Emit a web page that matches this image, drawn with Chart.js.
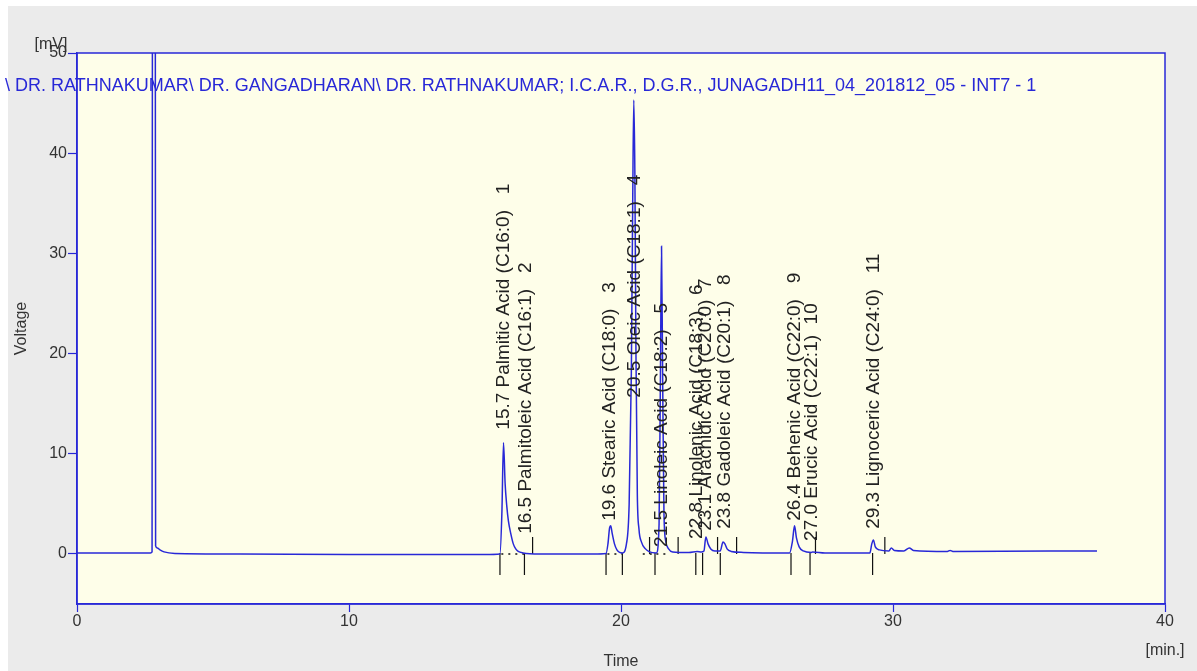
<!DOCTYPE html>
<html>
<head>
<meta charset="utf-8">
<script src="https://cdn.jsdelivr.net/npm/chart.js@4"></script>
<style>
  html, body { margin: 0; padding: 0; background: #fff; }
  #wrap { width: 1197px; height: 671px; }
</style>
</head>
<body>
<div id="wrap"><canvas id="chromChart" width="1197" height="671"></canvas></div>
<script>
// trace: time [min] / signal [mV]
var traceTime = [0, 2.7, 2.76, 2.83, 2.89, 2.95, 3.05, 3.2, 3.6, 6, 10, 15,
  15.55, 15.62, 15.68, 15.74, 15.8, 15.86, 15.95, 16.04, 16.13, 16.22, 16.4, 17, 19,
  19.45, 19.52, 19.58, 19.62, 19.68, 19.76, 19.85, 19.95,
  20.05, 20.2, 20.3, 20.38, 20.43, 20.47, 20.51, 20.55, 20.6, 20.66, 20.75, 20.9, 21.05,
  21.3, 21.4, 21.45, 21.49, 21.53, 21.58, 21.65, 21.75, 21.9,
  22.5, 22.8, 22.95, 23.05, 23.12, 23.2, 23.3, 23.45, 23.65, 23.75, 23.82, 23.9, 24.05, 24.5,
  26.2, 26.3, 26.38, 26.45, 26.55, 26.7, 27.0, 27.05, 27.5,
  29.15, 29.22, 29.28, 29.35, 29.5, 29.85, 29.94, 30.05, 30.4, 30.6, 30.75, 32, 32.1, 32.2, 37.5];
var traceMv = [0.1, 0.1, 0.2, 300, 0.8, 0.6, 0.4, 0.2, 0.05, 0, -0.05, -0.05,
  0, 4, 11.1, 7, 4.8, 3.3, 2, 1, 0.5, 0.25, 0.1, 0, 0,
  0.05, 1, 2.6, 2.8, 2, 1, 0.4, 0.15,
  0.1, 1, 5, 18, 35, 45.3, 38, 20, 6, 2.5, 1.2, 0.5, 0.2,
  0.1, 3, 18, 30.7, 18, 4, 1.2, 0.5, 0.2,
  0.15, 0.25, 0.2, 0.3, 1.7, 1.0, 0.5, 0.3, 0.3, 1.2, 1.0, 0.5, 0.25, 0.15,
  0.1, 1.2, 2.8, 1.6, 0.7, 0.3, 0.15, 0.2, 0.1,
  0.1, 1.0, 1.4, 0.7, 0.4, 0.3, 0.6, 0.35, 0.3, 0.6, 0.35, 0.25, 0.35, 0.25, 0.3];

// identified peaks
var peakTimes = [15.7, 16.5, 19.6, 20.5, 21.5, 22.8, 23.1, 23.8, 26.4, 27.0, 29.3];
var peakNames = ['Palmitic Acid (C16:0)', 'Palmitoleic Acid (C16:1)', 'Stearic Acid (C18:0)',
  'Oleic Acid (C18:1)', 'Linoleic Acid (C18:2)', 'Linolenic Acid (C18:3)', 'Arachidic Acid (C20:0)',
  'Gadoleic Acid (C20:1)', 'Behenic Acid (C22:0)', 'Erucic Acid (C22:1)', 'Lignoceric Acid (C24:0)'];
var peakGaps = ['   ', '   ', '   ', '   ', '   ', '   ', '  ', '   ', '   ', '  ', '   '];
var labelStartMv = [12.4, 2.0, 3.3, 15.6, 0.7, 1.5, 2.3, 2.5, 3.3, 1.3, 2.5];

// integration marks
var startMarks = [15.55, 16.45, 19.45, 20.05, 21.25, 22.75, 23.0, 23.65, 26.25, 26.95, 29.25];
var endMarks = [16.75, 21.05, 22.1, 23.55, 24.25, 27.15, 29.7];
var dottedFrom = [15.6, 19.5, 20.8, 21.3];
var dottedTo = [16.45, 20.05, 21.25, 21.75];

var xTicks = [0, 10, 20, 30, 40];
var yTicks = [0, 10, 20, 30, 40, 50];

var titleText = '\\ DR. RATHNAKUMAR\\ DR. GANGADHARAN\\ DR. RATHNAKUMAR; I.C.A.R., D.G.R., JUNAGADH11_04_201812_05 - INT7 - 1';

var blue = 'rgb(40,40,215)';
var font = 'Liberation Sans, Arial, sans-serif';

function tracePoints() {
  return traceTime.map(function (t, i) { return { x: t, y: traceMv[i] }; });
}

function markPoints() {
  var pts = [];
  startMarks.forEach(function (t) {
    pts.push({ x: t, y: 0.1 }, { x: t, y: -2.1 }, { x: t, y: null });
  });
  endMarks.forEach(function (t) {
    pts.push({ x: t, y: 0 }, { x: t, y: 1.7 }, { x: t, y: null });
  });
  return pts;
}

function dottedPoints() {
  var pts = [];
  dottedFrom.forEach(function (t, i) {
    pts.push({ x: t, y: 0 }, { x: dottedTo[i], y: 0 }, { x: dottedTo[i], y: null });
  });
  return pts;
}

var framePlugin = {
  id: 'frame',
  beforeDraw: function (chart) {
    var ctx = chart.ctx, a = chart.chartArea;
    ctx.save();
    ctx.fillStyle = '#fff';
    ctx.fillRect(0, 0, chart.width, chart.height);
    ctx.fillStyle = '#ebebeb';
    ctx.fillRect(8, 6, chart.width - 8, chart.height - 6);
    ctx.fillStyle = '#fefee9';
    ctx.fillRect(a.left, a.top, a.right - a.left, a.bottom - a.top);
    ctx.restore();
  },
  afterDatasetsDraw: function (chart) {
    var ctx = chart.ctx, x = chart.scales.x, y = chart.scales.y;
    ctx.save();
    ctx.fillStyle = '#222';
    ctx.font = '19px ' + font;
    ctx.textAlign = 'left';
    ctx.textBaseline = 'middle';
    peakTimes.forEach(function (t, i) {
      var txt = t.toFixed(1) + ' ' + peakNames[i] + peakGaps[i] + (i + 1);
      ctx.save();
      ctx.translate(x.getPixelForValue(t), y.getPixelForValue(labelStartMv[i]));
      ctx.rotate(-Math.PI / 2);
      ctx.fillText(txt, 0, 0);
      ctx.restore();
    });
    ctx.restore();
  },
  afterDraw: function (chart) {
    var ctx = chart.ctx, a = chart.chartArea;
    ctx.save();
    ctx.strokeStyle = blue;
    ctx.lineWidth = 1.5;
    ctx.strokeRect(a.left, a.top, a.right - a.left, a.bottom - a.top);
    ctx.fillStyle = blue;
    ctx.font = '18px ' + font;
    ctx.textBaseline = 'middle';
    ctx.textAlign = 'left';
    ctx.fillText(titleText, 5, 86);
    ctx.fillStyle = '#333';
    ctx.font = '16px ' + font;
    ctx.textAlign = 'center';
    ctx.fillText('[mV]', 51, 45);
    ctx.fillText('[min.]', a.right, 651);
    ctx.restore();
  }
};

var chart = new Chart(document.getElementById('chromChart').getContext('2d'), {
  type: 'line',
  data: {
    datasets: [{
      label: 'signal',
      data: tracePoints(),
      borderColor: blue,
      borderWidth: 1.5,
      pointRadius: 0,
      fill: false,
      cubicInterpolationMode: 'monotone',
      tension: 0.4
    }, {
      label: 'marks',
      data: markPoints(),
      borderColor: '#111',
      borderWidth: 1.2,
      pointRadius: 0,
      spanGaps: false
    }, {
      label: 'baseline',
      data: dottedPoints(),
      borderColor: '#111',
      borderWidth: 1.5,
      borderDash: [2, 5],
      pointRadius: 0,
      spanGaps: false
    }]
  },
  options: {
    responsive: false,
    animation: false,
    events: [],
    layout: { padding: { left: 0, right: 32, top: 53, bottom: 0 } },
    plugins: { legend: { display: false }, tooltip: { enabled: false } },
    scales: {
      x: {
        type: 'linear', min: 0, max: 40,
        afterBuildTicks: function (s) { s.ticks = xTicks.map(function (v) { return { value: v }; }); },
        afterFit: function (s) { s.height = 67; },
        grid: { drawOnChartArea: false, color: blue, tickLength: 8, tickWidth: 1.2 },
        border: { display: true, color: blue, width: 1.5 },
        ticks: { color: '#333', font: { family: font, size: 16 }, padding: 0, maxRotation: 0 },
        title: { display: true, text: 'Time', color: '#333', font: { family: font, size: 16 }, padding: { top: 0, bottom: 0 } }
      },
      y: {
        type: 'linear', min: -5, max: 50,
        afterBuildTicks: function (s) { s.ticks = yTicks.map(function (v) { return { value: v }; }); },
        afterFit: function (s) { s.width = 77; },
        grid: { drawOnChartArea: false, color: blue, tickLength: 9, tickWidth: 1.2 },
        border: { display: true, color: blue, width: 1.5 },
        ticks: { color: '#333', font: { family: font, size: 16 }, padding: 1 },
        title: { display: true, text: 'Voltage', color: '#333', font: { family: font, size: 16 }, padding: { top: 12, bottom: 0 } }
      }
    }
  },
  plugins: [framePlugin]
});
</script>
</body>
</html>
